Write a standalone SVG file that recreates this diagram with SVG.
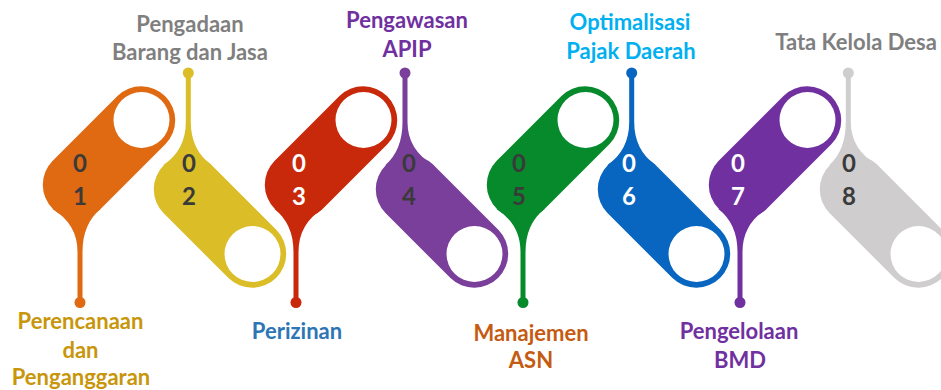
<svg xmlns="http://www.w3.org/2000/svg" width="941" height="390" viewBox="0 0 941 390">
<style>
.lbl{font-family:Lato,"Open Sans","Liberation Sans",sans-serif;font-weight:bold;font-size:22px;text-anchor:middle}
.dig{font-family:Lato,"Open Sans","Liberation Sans",sans-serif;font-weight:bold;font-size:24px;text-anchor:middle}
.dk{fill:#3a3a3a}.wh{fill:#ffffff}
.c1{fill:#df6a12}.c2{fill:#dbbd27}.c3{fill:#c8290a}.c4{fill:#7a3f9a}
.c5{fill:#078a2b}.c6{fill:#0866c0}.c7{fill:#7030a0}.c8{fill:#cfcdce}
</style>
<defs>
<path id="pillDown" fill-rule="evenodd" d="M24.04 24.04 L-40.96 89.04 A34 34 0 0 1 -89.04 40.96 L-24.04 -24.04 A34 34 0 0 1 24.04 24.04 Z M28 0 A28 28 0 1 0 -28 0 A28 28 0 1 0 28 0 Z"/>
<path id="pillUp" fill-rule="evenodd" d="M24.04 -24.04 L-40.96 -89.04 A34 34 0 0 0 -89.04 -40.96 L-24.04 24.04 A34 34 0 0 0 24.04 -24.04 Z M28 0 A28 28 0 1 0 -28 0 A28 28 0 1 0 28 0 Z"/>
</defs>

<g id="node1" class="c1">
<g transform="translate(141.5,120)">
<use href="#pillDown"/>
<path d="M-89.04 89.04 Q-64 104 -64 132 L-64 182 L-59 182 L-59 132 Q-59 104 -40.96 89.04 Z"/>
<circle cx="-61.5" cy="182.5" r="5.5"/>
</g>
<text class="dig dk" x="80" y="171.5">0</text><text class="dig dk" x="80" y="205">1</text>
</g>

<g id="node2" class="c2">
<g transform="translate(252.5,254)">
<use href="#pillUp"/>
<path d="M-89.04 -89.04 Q-66.7 -104 -66.7 -132 L-66.7 -181 L-61.7 -181 L-61.7 -132 Q-61.7 -104 -40.96 -89.04 Z"/>
<circle cx="-64.2" cy="-181" r="5.5"/>
</g>
<text class="dig dk" x="189" y="171.5">0</text><text class="dig dk" x="189" y="205">2</text>
</g>

<g id="node3" class="c3">
<g transform="translate(363.5,120)">
<use href="#pillDown"/>
<path d="M-89.04 89.04 Q-70 104 -70 132 L-70 182 L-65 182 L-65 132 Q-65 104 -40.96 89.04 Z"/>
<circle cx="-67.5" cy="182.5" r="5.5"/>
</g>
<text class="dig wh" x="299" y="171.5">0</text><text class="dig wh" x="299" y="205">3</text>
</g>

<g id="node4" class="c4">
<g transform="translate(474.5,254)">
<use href="#pillUp"/>
<path d="M-89.04 -89.04 Q-72 -104 -72 -132 L-72 -181 L-67 -181 L-67 -132 Q-67 -104 -40.96 -89.04 Z"/>
<circle cx="-69.5" cy="-181" r="5.5"/>
</g>
<text class="dig dk" x="409" y="171.5">0</text><text class="dig dk" x="409" y="205">4</text>
</g>

<g id="node5" class="c5">
<g transform="translate(585.5,120)">
<use href="#pillDown"/>
<path d="M-89.04 89.04 Q-65 104 -65 132 L-65 182 L-60 182 L-60 132 Q-60 104 -40.96 89.04 Z"/>
<circle cx="-62.5" cy="182.5" r="5.5"/>
</g>
<text class="dig dk" x="519" y="171.5">0</text><text class="dig dk" x="519" y="205">5</text>
</g>

<g id="node6" class="c6">
<g transform="translate(696.5,254)">
<use href="#pillUp"/>
<path d="M-89.04 -89.04 Q-67.3 -104 -67.3 -132 L-67.3 -181 L-62.3 -181 L-62.3 -132 Q-62.3 -104 -40.96 -89.04 Z"/>
<circle cx="-64.8" cy="-181" r="5.5"/>
</g>
<text class="dig wh" x="629" y="171.5">0</text><text class="dig wh" x="629" y="205">6</text>
</g>

<g id="node7" class="c7">
<g transform="translate(807.5,120)">
<use href="#pillDown"/>
<path d="M-89.04 89.04 Q-70 104 -70 132 L-70 182 L-65 182 L-65 132 Q-65 104 -40.96 89.04 Z"/>
<circle cx="-67.5" cy="182.5" r="5.5"/>
</g>
<text class="dig wh" x="738" y="171.5">0</text><text class="dig wh" x="738" y="205">7</text>
</g>

<g id="node8" class="c8">
<g transform="translate(918.5,254)">
<use href="#pillUp"/>
<path d="M-89.04 -89.04 Q-72.7 -104 -72.7 -132 L-72.7 -181 L-67.7 -181 L-67.7 -132 Q-67.7 -104 -40.96 -89.04 Z"/>
<circle cx="-70.2" cy="-181" r="5.5"/>
</g>
<text class="dig dk" x="849" y="171.5">0</text><text class="dig dk" x="849" y="205">8</text>
</g>

<g id="labels">
<text class="lbl" fill="#c8960a" x="80.5" y="329">Perencanaan</text>
<text class="lbl" fill="#c8960a" x="80.5" y="358">dan</text>
<text class="lbl" fill="#c8960a" x="81" y="385">Penganggaran</text>
<text class="lbl" fill="#7f7f7f" x="190" y="32">Pengadaan</text>
<text class="lbl" fill="#7f7f7f" x="190" y="60">Barang dan Jasa</text>
<text class="lbl" fill="#2e75b6" x="297" y="339">Perizinan</text>
<text class="lbl" fill="#7030a0" x="407" y="28">Pengawasan</text>
<text class="lbl" fill="#7030a0" x="407" y="57">APIP</text>
<text class="lbl" fill="#c55a11" x="531" y="341">Manajemen</text>
<text class="lbl" fill="#c55a11" x="531" y="368">ASN</text>
<text class="lbl" fill="#00b0f0" x="630" y="30">Optimalisasi</text>
<text class="lbl" fill="#00b0f0" x="631" y="59">Pajak Daerah</text>
<text class="lbl" fill="#7030a0" x="739" y="339">Pengelolaan</text>
<text class="lbl" fill="#7030a0" x="740" y="368">BMD</text>
<text class="lbl" fill="#7f7f7f" x="856" y="50">Tata Kelola Desa</text>
</g>
</svg>
